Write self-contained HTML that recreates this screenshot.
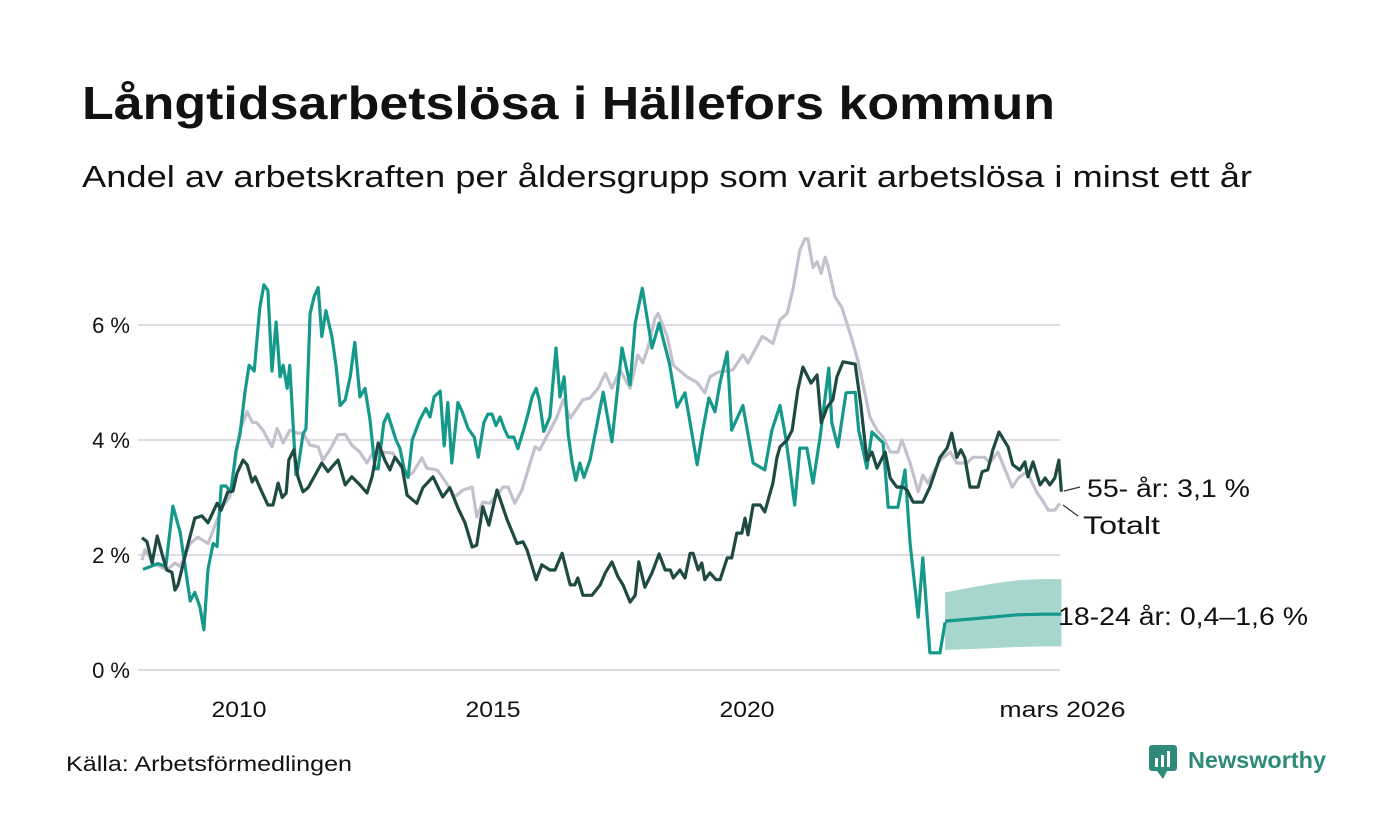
<!DOCTYPE html>
<html><head><meta charset="utf-8"><style>
body{margin:0;background:#fff;font-family:"Liberation Sans",sans-serif;}
#c{position:relative;width:1400px;height:840px;overflow:hidden;}
</style></head><body>
<div id="c">
<svg width="1400" height="840" xmlns="http://www.w3.org/2000/svg">
<text x="82" y="119" font-size="46" font-weight="bold" fill="#111" textLength="973" lengthAdjust="spacingAndGlyphs">Långtidsarbetslösa i Hällefors kommun</text>
<text x="82" y="187" font-size="31" fill="#111" textLength="1170" lengthAdjust="spacingAndGlyphs">Andel av arbetskraften per åldersgrupp som varit arbetslösa i minst ett år</text>
<g id="grid"></g>
<g id="yt"></g>
<g id="xt"></g>
<g id="series"></g>
<line x1="1064" y1="491" x2="1080" y2="487" stroke="#333" stroke-width="1.2"/>
<text x="1087" y="497" font-size="25" fill="#111" textLength="163" lengthAdjust="spacingAndGlyphs">55- år: 3,1 %</text>
<line x1="1063" y1="505" x2="1078" y2="516" stroke="#333" stroke-width="1.2"/>
<text x="1083" y="534" font-size="25" fill="#111" textLength="77" lengthAdjust="spacingAndGlyphs">Totalt</text>
<text x="1058" y="625" font-size="25" fill="#111" textLength="250" lengthAdjust="spacingAndGlyphs">18-24 år: 0,4–1,6 %</text>
<text x="66" y="771" font-size="21" fill="#111" textLength="286" lengthAdjust="spacingAndGlyphs">Källa: Arbetsförmedlingen</text>
<g>
<rect x="1149" y="745" width="28" height="26" rx="3" fill="#2e8b7a"/>
<polygon points="1157,771 1163,779 1167,771" fill="#2e8b7a"/>
<rect x="1155" y="758" width="3" height="9" fill="#fff"/><rect x="1161" y="755" width="3" height="12" fill="#fff"/><rect x="1167" y="751" width="3" height="16" fill="#fff"/>
<text x="1188" y="768" font-size="23" font-weight="bold" fill="#2e8b7a" textLength="138" lengthAdjust="spacingAndGlyphs">Newsworthy</text>
</g>
</svg>
</div>
<script>
const yTicks=[0,2,4,6];
const yTickLabels=["0 %","2 %","4 %","6 %"];
const xTicks=[2010,2015,2020,2026.17];
const xTickLabels=["2010","2015","2020","mars 2026"];

const youngDates=[2008.09,2008.39,2008.54,2008.68,2008.82,2009.02,2009.11,2009.21,2009.29,2009.37,2009.47,2009.55,2009.63,2009.72,2009.82,2009.92,2010.0,2010.1,2010.18,2010.28,2010.39,2010.47,2010.55,2010.63,2010.71,2010.79,2010.85,2010.93,2010.98,2011.1,2011.14,2011.24,2011.3,2011.38,2011.46,2011.54,2011.61,2011.69,2011.81,2011.89,2011.97,2012.07,2012.17,2012.26,2012.36,2012.46,2012.56,2012.66,2012.72,2012.83,2012.91,2013.07,2013.15,2013.23,2013.31,2013.39,2013.54,2013.66,2013.74,2013.82,2013.94,2014.02,2014.09,2014.17,2014.29,2014.37,2014.49,2014.61,2014.69,2014.8,2014.88,2014.96,2015.04,2015.12,2015.2,2015.28,2015.39,2015.47,2015.59,2015.67,2015.75,2015.83,2015.89,2015.98,2016.1,2016.22,2016.3,2016.38,2016.46,2016.54,2016.61,2016.69,2016.77,2016.89,2017.15,2017.32,2017.52,2017.68,2017.78,2017.92,2018.11,2018.25,2018.45,2018.6,2018.76,2019.0,2019.11,2019.23,2019.35,2019.45,2019.59,2019.68,2019.9,2020.1,2020.33,2020.47,2020.63,2020.75,2020.92,2021.02,2021.16,2021.28,2021.42,2021.59,2021.65,2021.77,2021.93,2022.11,2022.18,2022.34,2022.44,2022.66,2022.76,2022.95,2023.09,2023.19,2023.35,2023.44,2023.58,2023.78,2023.88];
const youngValues=[1.75,1.85,1.8,2.85,2.4,1.2,1.35,1.1,0.7,1.75,2.2,2.15,3.2,3.2,3.1,3.8,4.1,4.85,5.3,5.2,6.3,6.7,6.6,5.2,6.05,5.1,5.3,4.9,5.3,3.4,3.5,4.1,4.2,6.2,6.5,6.65,5.8,6.25,5.8,5.3,4.6,4.7,5.1,5.7,4.75,4.9,4.35,3.5,3.5,4.3,4.45,4.0,3.85,3.5,3.35,4.0,4.35,4.55,4.4,4.75,4.85,3.9,4.65,3.6,4.65,4.5,4.2,4.05,3.7,4.3,4.45,4.45,4.25,4.4,4.2,4.05,4.05,3.85,4.2,4.45,4.75,4.9,4.7,4.15,4.4,5.6,4.75,5.1,4.1,3.6,3.3,3.6,3.35,3.65,4.83,3.97,5.6,4.96,6.03,6.64,5.6,6.03,5.34,4.57,4.82,3.57,4.17,4.73,4.49,5.0,5.53,4.17,4.6,3.6,3.48,4.17,4.6,4.0,2.87,3.86,3.86,3.25,4.05,5.25,4.3,3.88,4.82,4.83,4.17,3.51,4.14,3.95,2.83,2.83,3.48,2.2,0.92,1.95,0.3,0.3,0.83];
const fcDates=[2023.88,2024.3,2024.8,2025.3,2025.8,2026.17];
const fcMid=[0.85,0.88,0.92,0.96,0.97,0.97];
const fcHigh=[1.35,1.42,1.5,1.56,1.58,1.58];
const fcLow=[0.35,0.36,0.38,0.4,0.41,0.41];

const oldDates=[2008.07,2008.17,2008.27,2008.37,2008.48,2008.56,2008.66,2008.72,2008.78,2008.98,2009.11,2009.25,2009.37,2009.55,2009.63,2009.76,2009.86,2009.94,2010.06,2010.14,2010.24,2010.3,2010.43,2010.55,2010.65,2010.75,2010.83,2010.91,2010.96,2011.06,2011.14,2011.24,2011.34,2011.61,2011.73,2011.93,2012.07,2012.2,2012.36,2012.5,2012.6,2012.72,2012.85,2012.95,2013.05,2013.19,2013.29,2013.48,2013.6,2013.8,2013.99,2014.13,2014.29,2014.43,2014.57,2014.66,2014.78,2014.9,2015.06,2015.26,2015.45,2015.57,2015.65,2015.83,2015.94,2016.1,2016.2,2016.34,2016.5,2016.59,2016.65,2016.75,2016.93,2017.09,2017.19,2017.32,2017.44,2017.54,2017.68,2017.78,2017.85,2017.97,2018.11,2018.25,2018.37,2018.47,2018.53,2018.66,2018.76,2018.86,2018.92,2019.02,2019.09,2019.15,2019.25,2019.37,2019.45,2019.59,2019.68,2019.78,2019.88,2019.94,2020.0,2020.1,2020.24,2020.33,2020.49,2020.57,2020.63,2020.77,2020.87,2020.98,2021.08,2021.24,2021.36,2021.44,2021.56,2021.67,2021.75,2021.87,2022.11,2022.22,2022.34,2022.44,2022.54,2022.7,2022.8,2022.93,2023.05,2023.13,2023.25,2023.44,2023.58,2023.78,2023.92,2024.01,2024.11,2024.19,2024.27,2024.37,2024.53,2024.61,2024.72,2024.82,2024.94,2025.12,2025.21,2025.35,2025.45,2025.51,2025.61,2025.75,2025.85,2025.94,2026.04,2026.12,2026.17];
const oldValues=[2.3,2.23,1.86,2.33,1.97,1.74,1.7,1.39,1.48,2.2,2.64,2.68,2.56,2.9,2.78,3.1,3.11,3.42,3.65,3.57,3.27,3.36,3.1,2.87,2.87,3.25,3.0,3.08,3.65,3.83,3.36,3.1,3.17,3.6,3.45,3.65,3.22,3.36,3.22,3.08,3.36,3.95,3.65,3.48,3.7,3.53,3.04,2.9,3.17,3.36,3.01,3.17,2.82,2.56,2.14,2.17,2.84,2.52,3.13,2.61,2.2,2.23,2.09,1.57,1.83,1.74,1.74,2.03,1.48,1.48,1.6,1.3,1.3,1.48,1.69,1.88,1.62,1.48,1.18,1.3,1.88,1.44,1.69,2.02,1.74,1.74,1.6,1.74,1.6,2.03,2.03,1.74,1.86,1.57,1.69,1.57,1.57,1.95,1.95,2.38,2.38,2.64,2.35,2.87,2.87,2.75,3.25,3.7,3.88,4.0,4.17,4.87,5.27,4.99,5.13,4.3,4.57,4.7,5.1,5.36,5.32,4.61,3.65,3.79,3.51,3.79,3.34,3.18,3.18,3.13,2.92,2.92,3.18,3.7,3.86,4.12,3.7,3.83,3.69,3.18,3.18,3.45,3.48,3.83,4.14,3.88,3.57,3.48,3.62,3.36,3.62,3.22,3.34,3.22,3.34,3.65,3.1];

const totDates=[2008.07,2008.13,2008.29,2008.56,2008.72,2008.82,2009.02,2009.17,2009.37,2009.47,2009.65,2009.8,2010.0,2010.14,2010.24,2010.33,2010.45,2010.63,2010.73,2010.85,2010.98,2011.14,2011.24,2011.38,2011.54,2011.63,2011.77,2011.93,2012.07,2012.2,2012.36,2012.5,2012.62,2012.81,2013.01,2013.29,2013.4,2013.58,2013.68,2013.88,2014.03,2014.23,2014.39,2014.57,2014.66,2014.78,2014.92,2015.18,2015.28,2015.41,2015.55,2015.81,2015.9,2016.24,2016.36,2016.5,2016.75,2016.89,2017.05,2017.19,2017.32,2017.48,2017.68,2017.83,2017.93,2018.03,2018.17,2018.23,2018.41,2018.53,2018.8,2019.0,2019.15,2019.25,2019.41,2019.7,2019.9,2020.0,2020.1,2020.28,2020.39,2020.49,2020.63,2020.77,2020.89,2021.02,2021.12,2021.18,2021.28,2021.36,2021.44,2021.52,2021.58,2021.71,2021.85,2022.05,2022.17,2022.4,2022.54,2022.66,2022.8,2022.95,2023.03,2023.19,2023.35,2023.44,2023.54,2023.78,2023.98,2024.11,2024.31,2024.43,2024.66,2024.76,2024.92,2025.2,2025.32,2025.49,2025.69,2025.79,2025.91,2026.04,2026.14];
const totValues=[1.91,2.09,1.86,1.74,1.86,1.8,2.2,2.31,2.2,2.43,2.84,3.01,4.17,4.49,4.31,4.3,4.17,3.88,4.2,3.95,4.17,4.12,4.12,3.91,3.88,3.65,3.83,4.09,4.1,3.91,3.79,3.6,3.79,3.79,3.77,3.36,3.43,3.69,3.51,3.48,3.3,3.01,3.13,3.18,2.66,2.92,2.9,3.18,3.18,2.9,3.13,3.88,3.83,4.4,4.7,4.38,4.7,4.73,4.9,5.16,4.9,5.22,4.9,5.48,5.34,5.6,6.12,6.2,5.8,5.3,5.1,5.0,4.82,5.1,5.18,5.22,5.48,5.34,5.51,5.8,5.74,5.68,6.09,6.2,6.64,7.3,7.5,7.5,7.0,7.1,6.9,7.18,7.0,6.49,6.3,5.74,5.36,4.4,4.17,4.05,3.79,3.79,4.0,3.6,3.1,3.39,3.25,3.65,3.79,3.6,3.6,3.7,3.7,3.6,3.79,3.18,3.34,3.45,3.08,2.96,2.78,2.78,2.9];

const NS='http://www.w3.org/2000/svg';
const X0=138,X1=1060;
function xs(t){return 240+(t-2010)*50.8;}
function ys(v){return 670-v*57.5;}
function mk(tag,attrs,parent){const e=document.createElementNS(NS,tag);for(const k in attrs)e.setAttribute(k,attrs[k]);parent.appendChild(e);return e;}
const grid=document.getElementById('grid'),yt=document.getElementById('yt'),xt=document.getElementById('xt'),ser=document.getElementById('series');
yTicks.forEach((v,i)=>{
  const l=mk('line',{x1:X0,x2:X1,y1:ys(v),y2:ys(v),stroke:'#dcdce2','stroke-width':2},grid);
  
  
  const t=mk('text',{x:130,y:ys(v)+8,'font-size':22,'text-anchor':'end',fill:'#111'},yt);
  t.textContent=yTickLabels[i];
  
  
});
xTicks.forEach((v,i)=>{
  const t=mk('text',{x:xs(v)+(i==3?1:-1),y:717,'font-size':22,'text-anchor':'middle',fill:'#111',textLength:(i==3?126:55),lengthAdjust:'spacingAndGlyphs'},xt);
  t.textContent=xTickLabels[i];
  
  
});
function path(d,v){return d.map((t,i)=>(i?'L':'M')+xs(t).toFixed(1)+','+ys(v[i]).toFixed(1)).join('');}
let bd=path(fcDates,fcHigh);
for(let i=fcDates.length-1;i>=0;i--)bd+='L'+xs(fcDates[i]).toFixed(1)+','+ys(fcLow[i]).toFixed(1);
const band=mk('path',{d:bd+'Z',fill:'#a6d6ce'},ser);


const pt=mk('path',{d:path(totDates,totValues),fill:'none',stroke:'#c2c1cd','stroke-width':3.2,'stroke-linejoin':'round'},ser);


const py=mk('path',{d:path(youngDates,youngValues),fill:'none',stroke:'#14998a','stroke-width':3.2,'stroke-linejoin':'round'},ser);


const pf=mk('path',{d:path(fcDates,fcMid),fill:'none',stroke:'#14998a','stroke-width':3.2},ser);


const po=mk('path',{d:path(oldDates,oldValues),fill:'none',stroke:'#1f4a42','stroke-width':3.2,'stroke-linejoin':'round'},ser);


</script>
</body></html>
